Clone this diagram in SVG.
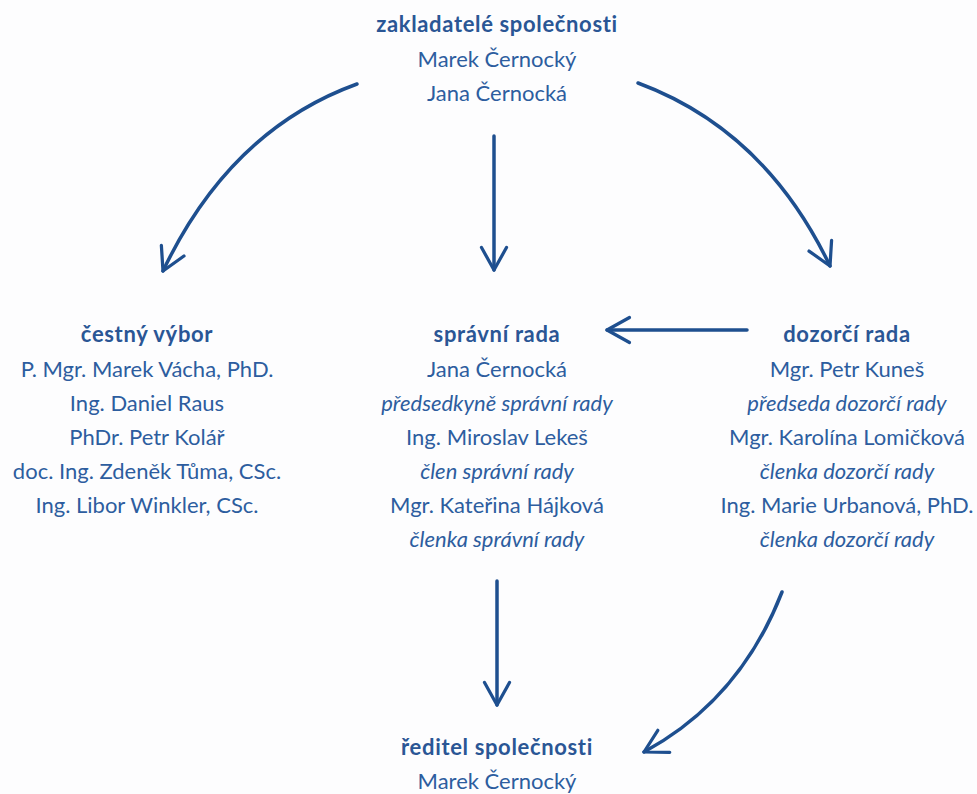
<svg xmlns="http://www.w3.org/2000/svg" width="977" height="794" viewBox="0 0 977 794">
<style>
text{font-family:Lato,"Open Sans","Noto Sans",sans-serif;font-size:22px;fill:#2d5d9f;text-anchor:middle}
.b{font-weight:bold;fill:#2a5695;letter-spacing:0.65px}
.i{font-style:italic}
.c{fill:none;stroke:#1e4f8f;stroke-width:3.5;stroke-linecap:round}
</style>
<defs>
<marker id="ahb" viewBox="0 0 12 12" refX="10" refY="6" markerWidth="30" markerHeight="30" markerUnits="userSpaceOnUse" orient="auto">
<path d="M1,1 L10,6 L1,11" fill="none" stroke="#1e4f8f" stroke-width="1.3" stroke-linecap="round" stroke-linejoin="round"/>
</marker>
</defs>
<rect width="977" height="794" fill="#fdfdfe"/>
<g id="connectors">
<path class="c" d="M357,84 Q230,130 163,271" marker-end="url(#ahb)"/>
<path class="c" d="M638,83 Q765,130 830,266" marker-end="url(#ahb)"/>
<path class="c" d="M494,136 L494,270" marker-end="url(#ahb)"/>
<path class="c" d="M747,330 L607,330" marker-end="url(#ahb)"/>
<path class="c" d="M497,581 L497,705" marker-end="url(#ahb)"/>
<path class="c" d="M782,592 Q740,700 644,752" marker-end="url(#ahb)"/>
</g>
<g id="zakladatele">
<text class="b" x="497" y="32">zakladatelé společnosti</text>
<text x="497" y="67">Marek Černocký</text>
<text x="497" y="101">Jana Černocká</text>
</g>
<g id="cestny-vybor">
<text class="b" x="147" y="342">čestný výbor</text>
<text x="147" y="377">P. Mgr. Marek Vácha, PhD.</text>
<text x="147" y="411">Ing. Daniel Raus</text>
<text x="147" y="445">PhDr. Petr Kolář</text>
<text x="147" y="479">doc. Ing. Zdeněk Tůma, CSc.</text>
<text x="147" y="513">Ing. Libor Winkler, CSc.</text>
</g>
<g id="spravni-rada">
<text class="b" x="497" y="342">správní rada</text>
<text x="497" y="377">Jana Černocká</text>
<text class="i" x="497" y="411">předsedkyně správní rady</text>
<text x="497" y="445">Ing. Miroslav Lekeš</text>
<text class="i" x="497" y="479">člen správní rady</text>
<text x="497" y="513">Mgr. Kateřina Hájková</text>
<text class="i" x="497" y="547">členka správní rady</text>
</g>
<g id="dozorci-rada">
<text class="b" x="847" y="342">dozorčí rada</text>
<text x="847" y="377">Mgr. Petr Kuneš</text>
<text class="i" x="847" y="411">předseda dozorčí rady</text>
<text x="847" y="445">Mgr. Karolína Lomičková</text>
<text class="i" x="847" y="479">členka dozorčí rady</text>
<text x="847" y="513">Ing. Marie Urbanová, PhD.</text>
<text class="i" x="847" y="547">členka dozorčí rady</text>
</g>
<g id="reditel">
<text class="b" x="497" y="755">ředitel společnosti</text>
<text x="497" y="789">Marek Černocký</text>
</g>
</svg>
